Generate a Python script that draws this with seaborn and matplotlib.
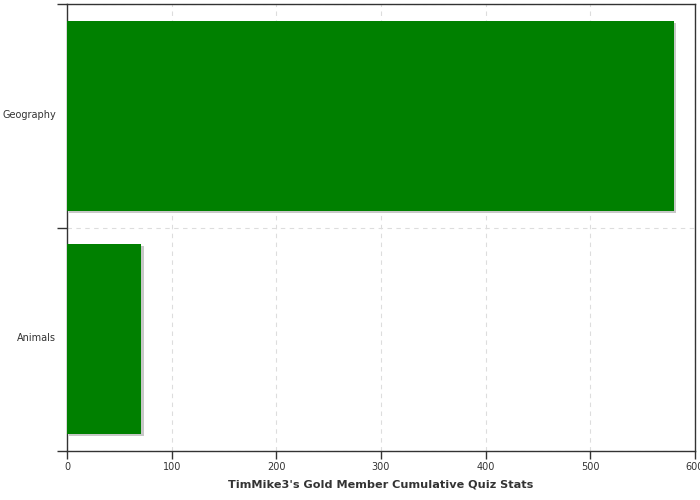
import numpy as np
import pandas as pd
import seaborn as sns
import matplotlib.pyplot as plt
import matplotlib.patheffects as pe
import matplotlib.transforms as mtransforms

categories = ["Geography", "Animals"]
scores = [580, 71]
title = "TimMike3's Gold Member Cumulative Quiz Stats"

df = pd.DataFrame({"category": categories, "score": scores})

sns.set_theme(style="white")
plt.rcParams['font.family'] = ['DejaVu Sans']

fig = plt.figure(figsize=(7, 5), dpi=100)
ax = fig.add_axes([67 / 700, 1 - 451 / 500, 628 / 700, 447 / 500])

sns.barplot(data=df, x="score", y="category", orient="h", color="#008000",
            saturation=1, width=0.85, ax=ax, zorder=3)
for p in ax.patches:
    p.set_linewidth(0)
    p.set_path_effects([pe.SimplePatchShadow(offset=(1.6, -1.6), shadow_rgbFace='#c8c8c8', alpha=1),
                        pe.Normal()])

ax.set_xlim(0, 600)
ax.set_ylim(1.5, -0.5)
ax.set_xticks(np.arange(0, 601, 100))
ax.set_yticks([-0.5, 0.5, 1.5], minor=True)
ax.tick_params(axis='y', which='major', length=0, pad=8, labelsize=7, labelcolor='#333333')
ax.tick_params(axis='y', which='minor', length=7, width=1, color='#333333', left=True)
ax.tick_params(axis='x', which='major', length=6, width=1, color='#333333', bottom=True,
               labelsize=7, labelcolor='#333333', pad=2)

# nudge category labels up a little
shift = mtransforms.ScaledTranslation(0, 2 / 100, fig.dpi_scale_trans)
for lbl in ax.get_yticklabels():
    lbl.set_transform(lbl.get_transform() + shift)

ax.grid(axis='x', which='major', color='#dddddd', linestyle=(0, (4, 4)), linewidth=0.8, zorder=0)
ax.grid(axis='y', which='minor', color='#dddddd', linestyle=(0, (4, 4)), linewidth=0.8, zorder=0)
ax.set_axisbelow(True)

for s in ax.spines.values():
    s.set_color('#333333')
    s.set_linewidth(1)

ax.set_ylabel("")
ax.set_xlabel(title, fontsize=8.1, fontweight='bold', color='#333333', labelpad=5)

fig.savefig("out.png", dpi=100)
